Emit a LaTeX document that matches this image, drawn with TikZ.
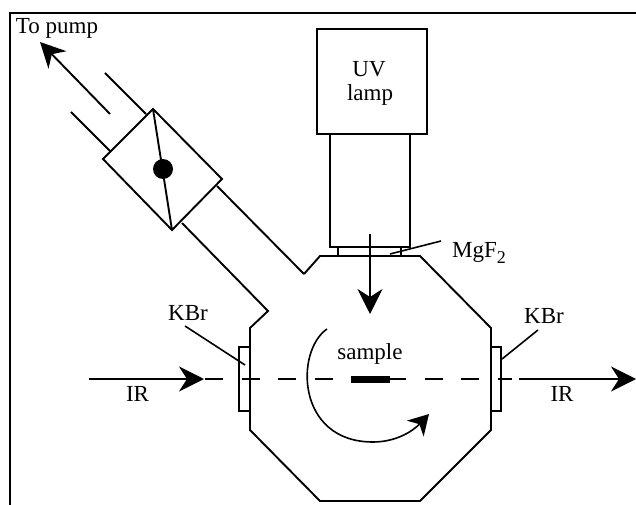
\documentclass[tikz,border=0pt]{standalone}
\usepackage{fontspec}
\setmainfont{Liberation Serif}
\usetikzlibrary{arrows.meta}
\tikzset{
  wall/.style={line width=1.9pt, line join=miter},
  leader/.style={line width=1.6pt},
  beam/.style={line width=1.9pt, -{Stealth[length=25pt, width=25pt, inset=8pt]}},
  turn/.style={line width=1.6pt, -{Stealth[length=20pt, width=23pt, inset=6pt]}},
  label/.style={anchor=base, inner sep=0pt, font=\fontsize{23}{25}\selectfont}
}
\begin{document}
\begin{tikzpicture}[x=1pt, y=1pt]
    \useasboundingbox (0,0) rectangle (636,504);
    % frame
    \draw[line width=2.2pt] (10,-2) -- (10,491) -- (640,491);
    % chamber
    \draw[wall] (304,230) -- (320,248) -- (420,248) -- (491,176) -- (491,74)
                -- (420,3) -- (320,3) -- (250,74) -- (250,176) -- (268,193) -- (182,281);
    \draw[wall] (304,230) -- (217,318);
    % valve
    \draw[wall] (153,395) -- (222,325) -- (172,274) -- (103,345) -- cycle;
    \draw[wall] (153,395) -- (172,274);
    \fill (163,335) circle (10);
    \draw[wall] (146,390) -- (105,431);
    \draw[wall] (110,353) -- (71,392);
    \draw[beam] (110,390) -- (40,462);
    % lamp
    \draw[line width=2.2pt] (317,370) rectangle (427,475);
    \draw[wall] (330,257) rectangle (410,370);
    \draw[wall] (338,248) rectangle (401,257);
    \draw[beam] (370,270) -- (370,190);
    % windows
    \draw[wall] (239,93) rectangle (250,157);
    \draw[wall] (491,93) rectangle (501,157);
    \draw[leader] (185,178) -- (245,139);
    \draw[leader] (502,145) -- (538,174);
    \draw[leader] (390,250) -- (441,263);
    % infrared path
    \draw[beam] (89,125) -- (204,125);
    \draw[line width=1.9pt, dash pattern=on 18pt off 18.6pt] (205,125) -- (512,125);
    \draw[beam] (519,125) -- (636,125);
    \fill (351,121) rectangle (390,128);
    % rotation
    \draw[turn] (327,175) .. controls (295,153) and (296,62) .. (373,62)
                .. controls (395,62) and (412,72) .. (429,90);
    % labels
    \node[label] (pump) at (57,470) {To pump};
    \node[label] (uv) at (369,427) {UV};
    \node[label] (lamp) at (370,403) {lamp};
    \node[label, anchor=base west] (mgf) at (452,247) {MgF\raisebox{-6pt}{\fontsize{18}{18}\selectfont 2}};
    \node[label] (kbrl) at (188,184) {KBr};
    \node[label] (kbrr) at (544,181) {KBr};
    \node[label] (sample) at (370,145) {sample};
    \node[label] (irl) at (137.5,103) {IR};
    \node[label] (irr) at (562,103) {IR};
\end{tikzpicture}
\end{document}
